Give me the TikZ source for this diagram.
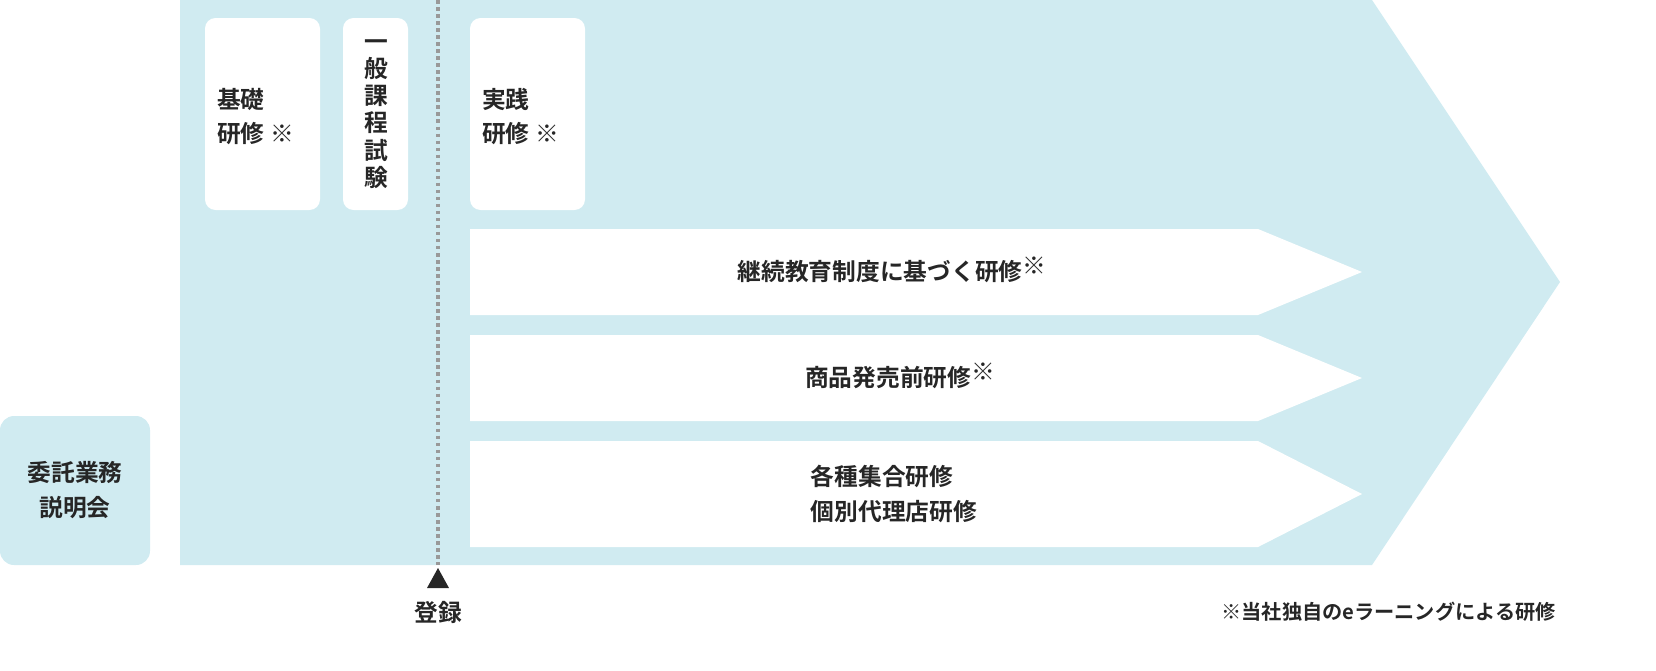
\documentclass[tikz,border=0pt]{standalone}
\usepackage{fontspec}
\setmainfont{Noto Sans CJK JP Bold}
\begin{document}
\begin{tikzpicture}[x=0.02cm,y=-0.02cm,
  wbox/.style={fill=white,draw=none,rounded corners=6pt},
  txt/.style={font=\fontsize{13.5}{19.5}\selectfont,text=black!85,align=left},
  warrow/.style={fill=white,draw=none}]
\definecolor{bl}{HTML}{D0EBF1}
\useasboundingbox (0,0) rectangle (1656,670);
\fill[bl,rounded corners=8pt] (0,416) rectangle (150,565);
\node[txt,align=center] (setsumei) at (75,490) {委託業務\\説明会};
\fill[bl] (180,0) -- (1372,0) -- (1560,282) -- (1372,565) -- (180,565) -- cycle;
\fill[wbox] (205,18) rectangle (320,210);
\node[txt,anchor=north west] (kiso) at (211,82) {基礎\\研修 ※};
\fill[wbox] (343,18) rectangle (408,210);
\node[txt,align=center,font=\fontsize{13.5}{15.5}\selectfont] (ippan) at (376,114) {一\\般\\課\\程\\試\\験};
\fill[wbox] (470,18) rectangle (585,210);
\node[txt,anchor=north west] (jissen) at (476,82) {実践\\研修 ※};
\coordinate (dtop) at (438,0);
\coordinate (dbot) at (438,565);
\draw[gray!80,line width=2pt,dotted] (dtop) -- (dbot);
\fill[black!85] (438,568) -- (449,588) -- (427,588) -- cycle;
\node[txt] (touroku) at (438,612) {登録};
\foreach \t/\b/\n in {229/315/a,335/421/b,441/547/c}{
  \fill[warrow] (470,\t) -- (1258,\t) -- (1362,{(\t+\b)/2}) -- (1258,\b) -- (470,\b) -- cycle;
}
\node[txt] (keizoku) at (892,270) {継続教育制度に基づく研修\raisebox{0.5ex}{※}};
\node[txt] (shohin) at (900,376) {商品発売前研修\raisebox{0.5ex}{※}};
\node[txt,align=left] (kakushu) at (894,494) {各種集合研修\\個別代理店研修};
\node[txt,font=\fontsize{11.5}{13}\selectfont,anchor=east] (note) at (1562,612) {※当社独自のeラーニングによる研修};
\end{tikzpicture}
\end{document}
